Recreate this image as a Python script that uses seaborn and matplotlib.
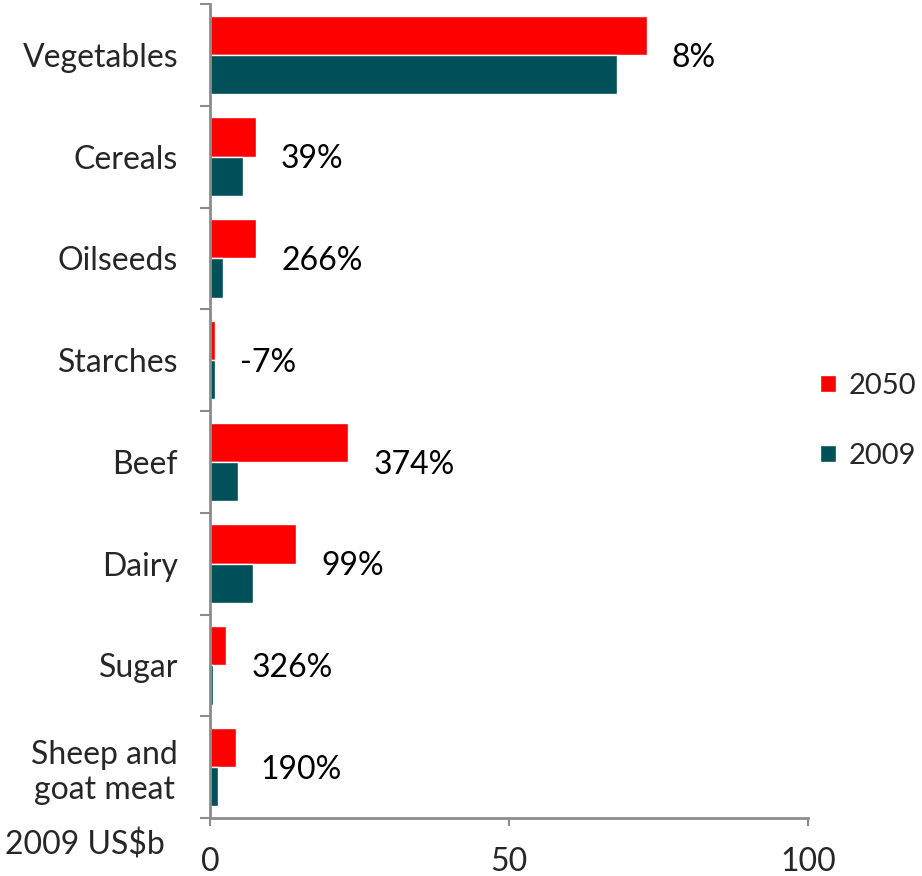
import pandas as pd
import seaborn as sns
import matplotlib.pyplot as plt
from matplotlib.ticker import FixedLocator

sns.set_theme(style='white')
plt.rcParams['font.family'] = ['Lato', 'DejaVu Sans']

# data (2009 US$b)
categories = ["Vegetables", "Cereals", "Oilseeds", "Starches",
              "Beef", "Dairy", "Sugar", "Sheep and\ngoat meat"]
values_2050 = [73.0, 7.7, 7.7, 0.8, 23.1, 14.4, 2.7, 4.3]
values_2009 = [68.0, 5.5, 2.1, 0.9, 4.7, 7.2, 0.5, 1.3]
growth_labels = ["8%", "39%", "266%", "-7%", "374%", "99%", "326%", "190%"]
years = ["2050", "2009"]
colors = ["#FF0000", "#00505A"]

data = pd.DataFrame({
    "Category": categories * 2,
    "Value": values_2050 + values_2009,
    "Year": [years[0]] * len(categories) + [years[1]] * len(categories),
})

fs = 23

fig = plt.figure(figsize=(9.22, 8.76), dpi=100)
ax = fig.add_axes([210 / 922, 1 - 818 / 876, (808 - 210) / 922, (818 - 4) / 876])

sns.barplot(
    data=data,
    x="Value",
    y="Category",
    hue="Year",
    hue_order=years,
    palette=colors,
    orient="h",
    width=0.77,
    saturation=1,
    ax=ax,
)

ax.set_xlim(0, 100)
ax.set_ylim(len(categories) - 0.5, -0.5)
ax.set_xticks([0, 50, 100])
ax.set_xlabel("")
ax.set_ylabel("")

gray = "#8C8C8C"
for side in ["top", "right"]:
    ax.spines[side].set_visible(False)
for side in ["left", "bottom"]:
    ax.spines[side].set_color(gray)
    ax.spines[side].set_linewidth(2)

ax.tick_params(axis="x", length=6, width=1.5, color=gray, pad=15,
               labelsize=fs, direction="out", bottom=True)
ax.tick_params(axis="y", which="major", length=0, pad=23, labelsize=fs)
ax.yaxis.set_minor_locator(FixedLocator([i - 0.5 for i in range(len(categories) + 1)]))
ax.tick_params(axis="y", which="minor", length=7, width=1.5, color=gray,
               direction="out", left=True)
for lab in ax.get_yticklabels():
    lab.set_multialignment("center")

# growth labels to the right of each pair of bars
for i, txt in enumerate(growth_labels):
    xmax = max(values_2050[i], values_2009[i])
    ax.annotate(txt, (xmax, i), xytext=(18, -2), textcoords="offset points",
                ha="left", va="center", fontsize=fs, color="black")

ax.legend(loc="center left", bbox_to_anchor=(1.02, 0.488), frameon=False,
          fontsize=21, handlelength=0.55, handleheight=0.55, borderpad=0,
          borderaxespad=0, labelspacing=1.5, handletextpad=0.43)

fig.text(5 / 922, 1 - 845 / 876, "2009 US$b", fontsize=fs,
         ha="left", va="center")

plt.savefig("out.png", dpi=100)
